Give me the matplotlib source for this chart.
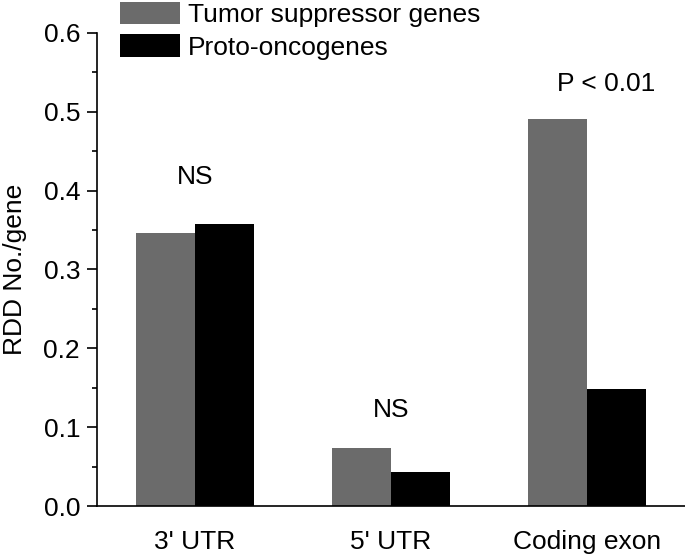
import matplotlib
matplotlib.use("Agg")
import matplotlib.pyplot as plt
import numpy as np
from matplotlib.ticker import MultipleLocator, FormatStrFormatter

plt.rcParams['font.family'] = ['Liberation Sans', 'DejaVu Sans']

categories = ["3' UTR", "5' UTR", "Coding exon"]
tumor_suppressor = [0.346, 0.073, 0.491]
proto_oncogenes = [0.358, 0.043, 0.148]
annotations = ["NS", "NS", "P < 0.01"]
annot_y = [0.417, 0.122, 0.535]
series_names = ["Tumor suppressor genes", "Proto-oncogenes"]

FS = 19

fig = plt.figure(figsize=(6.85, 5.56), dpi=100)
ax = fig.add_axes([97/685, 1-506/556, 1-97/685, (506-33)/556])

x = np.arange(len(categories))
w = 0.3
b1 = ax.bar(x - w/2, tumor_suppressor, w, color='#6b6b6b', label=series_names[0])
b2 = ax.bar(x + w/2, proto_oncogenes, w, color='#000000', label=series_names[1])

ax.set_xlim(-0.5, 2.5)
ax.set_ylim(0, 0.6)
ax.yaxis.set_major_locator(MultipleLocator(0.1))
ax.yaxis.set_minor_locator(MultipleLocator(0.05))
ax.yaxis.set_major_formatter(FormatStrFormatter('%.1f'))
ax.set_xticks(x)
ax.set_xticklabels(categories, fontsize=FS)
ax.tick_params(axis='x', length=0, pad=17)
ax.tick_params(axis='y', which='major', length=7.2, width=1.2, labelsize=FS, pad=5)
ax.tick_params(axis='y', which='minor', length=3.6, width=1.2)
for s in ['top', 'right']:
    ax.spines[s].set_visible(False)
for s in ['left', 'bottom']:
    ax.spines[s].set_linewidth(1.2)

ax.set_ylabel("RDD No./gene", fontsize=FS, labelpad=12)

offsets = [0, 0, 0.1]
for i, (t, yv) in enumerate(zip(annotations, annot_y)):
    ax.text(x[i] + offsets[i], yv, t, ha='center', va='center', fontsize=FS)

fig.legend(handles=[b1, b2], loc='upper left', bbox_to_anchor=(120/685, 0.997),
           frameon=False, fontsize=FS, handlelength=2.27, handleheight=0.91,
           handletextpad=0.3, labelspacing=0.29, borderaxespad=0, borderpad=0)

fig.savefig("out.png", dpi=100)
